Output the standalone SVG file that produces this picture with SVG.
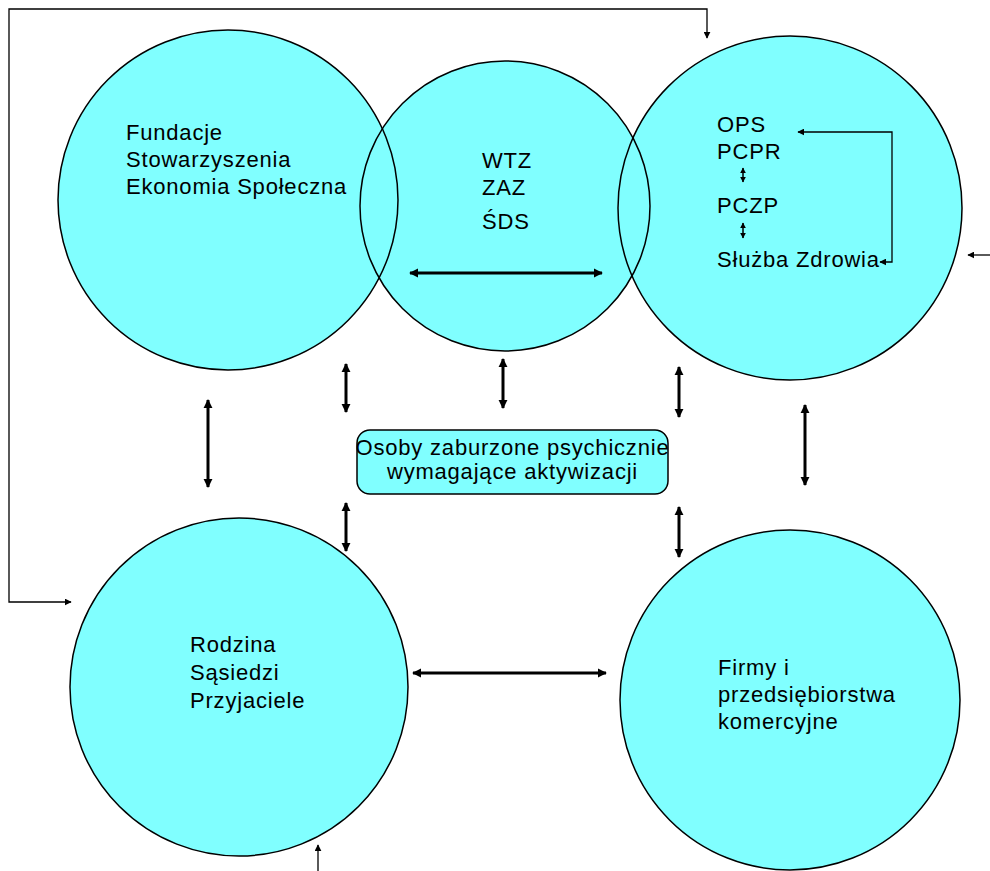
<svg xmlns="http://www.w3.org/2000/svg" width="990" height="871" viewBox="0 0 990 871">
<style>
.fill{fill:#80FFFF;stroke:none}
.ring{fill:none;stroke:#000;stroke-width:1.5}
.t{font-family:"Liberation Sans",Arial,sans-serif;font-size:22px;fill:#000;letter-spacing:0.8px}
.thick{stroke:#000;stroke-width:3;fill:none;marker-start:url(#hb);marker-end:url(#hb)}
.thin{stroke:#000;stroke-width:1.3;fill:none}
.small{stroke:#000;stroke-width:1.5;fill:none;marker-start:url(#hs);marker-end:url(#hs)}
</style>
<defs>
<marker id="hb" viewBox="0 0 10 10" refX="9" refY="5" markerWidth="9" markerHeight="10" markerUnits="userSpaceOnUse" orient="auto-start-reverse"><path d="M0,0 L10,5 L0,10 z" fill="#000"/></marker>
<marker id="hs" viewBox="0 0 10 10" refX="9" refY="5" markerWidth="6" markerHeight="6" markerUnits="userSpaceOnUse" orient="auto-start-reverse"><path d="M0,0 L10,5 L0,10 z" fill="#000"/></marker>
<marker id="ht" viewBox="0 0 10 10" refX="9" refY="5" markerWidth="7" markerHeight="7" markerUnits="userSpaceOnUse" orient="auto-start-reverse"><path d="M0,0 L10,5 L0,10 z" fill="#000"/></marker>
</defs>
<rect width="990" height="871" fill="#fff"/>
<g id="fills">
<circle class="fill" cx="228" cy="200" r="170"/>
<circle class="fill" cx="505" cy="206" r="145"/>
<circle class="fill" cx="790" cy="208" r="172"/>
<circle class="fill" cx="239" cy="687" r="169"/>
<circle class="fill" cx="790" cy="700" r="170"/>
</g>
<g id="n1"><circle class="ring" cx="228" cy="200" r="170"/>
<text class="t" x="126" y="140">Fundacje</text><text class="t" x="126" y="167">Stowarzyszenia</text><text class="t" x="126" y="194">Ekonomia Społeczna</text></g>
<g id="n2"><circle class="ring" cx="505" cy="206" r="145"/>
<text class="t" x="482" y="168">WTZ</text><text class="t" x="482" y="195">ZAZ</text><text class="t" x="482" y="229">ŚDS</text></g>
<g id="n3"><circle class="ring" cx="790" cy="208" r="172"/>
<text class="t" x="717" y="132">OPS</text><text class="t" x="717" y="159">PCPR</text><text class="t" x="717" y="213">PCZP</text><text class="t" x="717" y="267">Służba Zdrowia</text></g>
<g id="n4"><circle class="ring" cx="239" cy="687" r="169"/>
<text class="t" x="190" y="652">Rodzina</text><text class="t" x="190" y="680">Sąsiedzi</text><text class="t" x="190" y="708">Przyjaciele</text></g>
<g id="n5"><circle class="ring" cx="790" cy="700" r="170"/>
<text class="t" x="718" y="675">Firmy i</text><text class="t" x="718" y="702">przedsiębiorstwa</text><text class="t" x="718" y="729">komercyjne</text></g>
<g id="center"><rect x="357" y="430" width="311" height="64" rx="13" fill="#80FFFF" stroke="#000" stroke-width="1.5"/>
<text class="t" x="512.5" y="455" text-anchor="middle">Osoby zaburzone psychicznie</text>
<text class="t" x="512.5" y="479" text-anchor="middle">wymagające aktywizacji</text></g>
<g id="connectors">
<line class="thick" x1="410" y1="273" x2="602" y2="273"/>
<line class="thick" x1="413" y1="673" x2="606" y2="673"/>
<line class="thick" x1="346" y1="364" x2="346" y2="412"/>
<line class="thick" x1="503" y1="359" x2="503" y2="408"/>
<line class="thick" x1="679" y1="367" x2="679" y2="417"/>
<line class="thick" x1="346" y1="503" x2="346" y2="551"/>
<line class="thick" x1="679" y1="507" x2="679" y2="557"/>
<line class="thick" x1="208" y1="400" x2="208" y2="487"/>
<line class="thick" x1="805" y1="405" x2="805" y2="485"/>
<line class="small" x1="743" y1="168" x2="743" y2="182"/>
<line class="small" x1="743" y1="223" x2="743" y2="238"/>
<path class="thin" d="M798,132 L892,132 L892,262 L880,262" marker-start="url(#ht)" marker-end="url(#ht)"/>
<path class="thin" d="M71,602 L9,602 L9,9 L707,9 L707,38" marker-start="url(#ht)" marker-end="url(#ht)"/>
<path class="thin" d="M990,255 L968,255" marker-end="url(#ht)"/>
<path class="thin" d="M318,871 L318,845" marker-end="url(#ht)"/>
</g>
</svg>
